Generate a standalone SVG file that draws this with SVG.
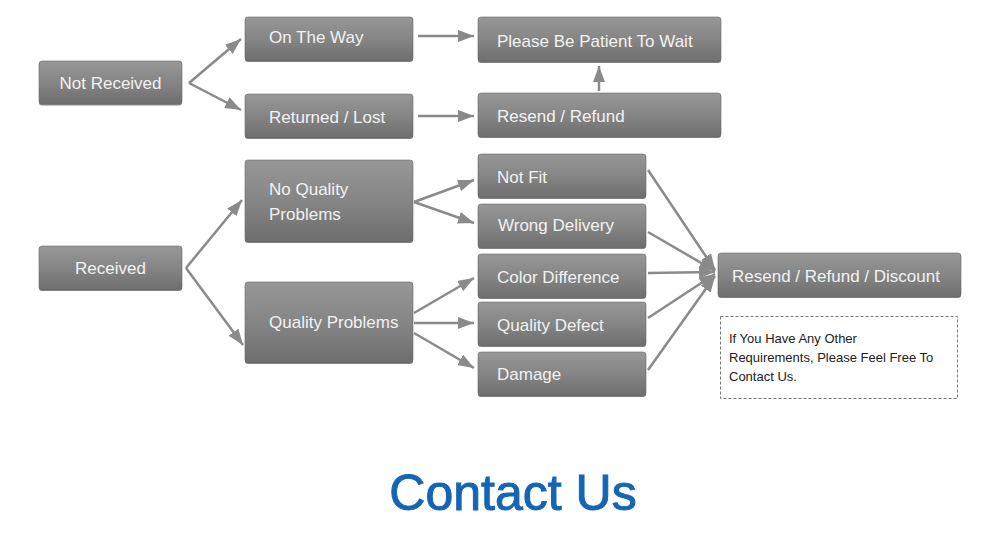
<svg xmlns="http://www.w3.org/2000/svg" width="1000" height="546" viewBox="0 0 1000 546">
<defs>
<linearGradient id="g" x1="0" y1="0" x2="0" y2="1">
<stop offset="0" stop-color="#979797"/>
<stop offset="0.5" stop-color="#858585"/>
<stop offset="1" stop-color="#6e6e6e"/>
</linearGradient>
<marker id="ah" markerUnits="userSpaceOnUse" markerWidth="16" markerHeight="12" refX="16" refY="6" orient="auto">
<path d="M0,0 L16,6 L0,12 z" fill="#8a8a8a"/>
</marker>
<style>
.box{fill:url(#g);stroke:#6a6a6a;stroke-width:0.6}
.sh{fill:#3c3c3c;opacity:0.6}
.t{font-family:"Liberation Sans",Arial,sans-serif;font-size:17px;fill:#f2f2f2}
.c{text-anchor:middle}
.con line{stroke:#8a8a8a;stroke-width:2.5;marker-end:url(#ah)}
.note{font-family:"Liberation Sans",Arial,sans-serif;font-size:13px;fill:#222}
</style>
</defs>
<rect width="1000" height="546" fill="#ffffff"/>

<g id="not-received"><rect class="sh" x="39" y="62" width="143" height="43.5" rx="3"/><rect class="box" x="39" y="61" width="143" height="43" rx="3"/><text class="t c" x="110.5" y="89">Not Received</text></g>
<g id="on-the-way"><rect class="sh" x="245" y="18" width="168" height="44" rx="3"/><rect class="box" x="245" y="17" width="168" height="44" rx="3"/><text class="t" x="269" y="43">On The Way</text></g>
<g id="returned-lost"><rect class="sh" x="245" y="95" width="168" height="44" rx="3"/><rect class="box" x="245" y="94" width="168" height="44" rx="3"/><text class="t" x="269" y="123">Returned / Lost</text></g>
<g id="please-wait"><rect class="sh" x="478" y="18" width="243" height="45" rx="3"/><rect class="box" x="478" y="17" width="243" height="45" rx="3"/><text class="t" x="497" y="47">Please Be Patient To Wait</text></g>
<g id="resend-refund"><rect class="sh" x="478" y="94" width="243" height="44" rx="3"/><rect class="box" x="478" y="93" width="243" height="44" rx="3"/><text class="t" x="497" y="122">Resend / Refund</text></g>

<g id="received"><rect class="sh" x="39" y="247" width="143" height="44" rx="3"/><rect class="box" x="39" y="246" width="143" height="44" rx="3"/><text class="t c" x="110.5" y="274">Received</text></g>
<g id="no-quality"><rect class="sh" x="245" y="161" width="168" height="82" rx="3"/><rect class="box" x="245" y="160" width="168" height="82" rx="3"/><text class="t" x="269" y="195">No Quality</text><text class="t" x="269" y="220">Problems</text></g>
<g id="quality"><rect class="sh" x="245" y="283" width="168" height="81" rx="3"/><rect class="box" x="245" y="282" width="168" height="81" rx="3"/><text class="t" x="269" y="328">Quality Problems</text></g>

<g id="not-fit"><rect class="sh" x="478" y="155" width="168" height="44" rx="3"/><rect class="box" x="478" y="154" width="168" height="44" rx="3"/><text class="t" x="497" y="183">Not Fit</text></g>
<g id="wrong-delivery"><rect class="sh" x="478" y="205" width="168" height="44" rx="3"/><rect class="box" x="478" y="204" width="168" height="44" rx="3"/><text class="t" x="498" y="231">Wrong Delivery</text></g>
<g id="color-difference"><rect class="sh" x="478" y="255" width="168" height="44" rx="3"/><rect class="box" x="478" y="254" width="168" height="44" rx="3"/><text class="t" x="497" y="283">Color Difference</text></g>
<g id="quality-defect"><rect class="sh" x="478" y="303" width="168" height="44" rx="3"/><rect class="box" x="478" y="302" width="168" height="44" rx="3"/><text class="t" x="497" y="331">Quality Defect</text></g>
<g id="damage"><rect class="sh" x="478" y="353" width="168" height="44" rx="3"/><rect class="box" x="478" y="352" width="168" height="44" rx="3"/><text class="t" x="497" y="380">Damage</text></g>

<g id="resend-refund-discount"><rect class="sh" x="718" y="254" width="243" height="44" rx="3"/><rect class="box" x="718" y="253" width="243" height="44" rx="3"/><text class="t" x="732" y="282">Resend / Refund / Discount</text></g>

<g id="note"><rect x="720.5" y="316.5" width="237" height="82" fill="none" stroke="#777" stroke-width="1" stroke-dasharray="3,2"/>
<text class="note" x="729" y="343">If You Have Any Other</text>
<text class="note" x="729" y="362">Requirements, Please Feel Free To</text>
<text class="note" x="729" y="381">Contact Us.</text></g>

<g id="connectors" class="con">
<line x1="189" y1="83" x2="241" y2="39"/>
<line x1="189" y1="83" x2="241" y2="110"/>
<line x1="418" y1="36" x2="474" y2="36"/>
<line x1="418" y1="116" x2="474" y2="116"/>
<line x1="599" y1="91" x2="599" y2="66"/>
<line x1="186" y1="268" x2="242" y2="200"/>
<line x1="186" y1="268" x2="243" y2="345"/>
<line x1="414" y1="202" x2="474" y2="180"/>
<line x1="414" y1="202" x2="474" y2="223"/>
<line x1="414" y1="313" x2="474" y2="278"/>
<line x1="414" y1="323" x2="474" y2="323"/>
<line x1="414" y1="333" x2="474" y2="368"/>
<line x1="648" y1="170" x2="715" y2="270"/>
<line x1="648" y1="232" x2="715" y2="271"/>
<line x1="648" y1="273" x2="715" y2="272"/>
<line x1="648" y1="318" x2="715" y2="274"/>
<line x1="648" y1="370" x2="715" y2="276"/>
</g>

<text x="513" y="510" font-family="Liberation Sans,Arial,sans-serif" font-size="50" fill="#1565b5" stroke="#1565b5" stroke-width="1" text-anchor="middle">Contact Us</text>
</svg>
